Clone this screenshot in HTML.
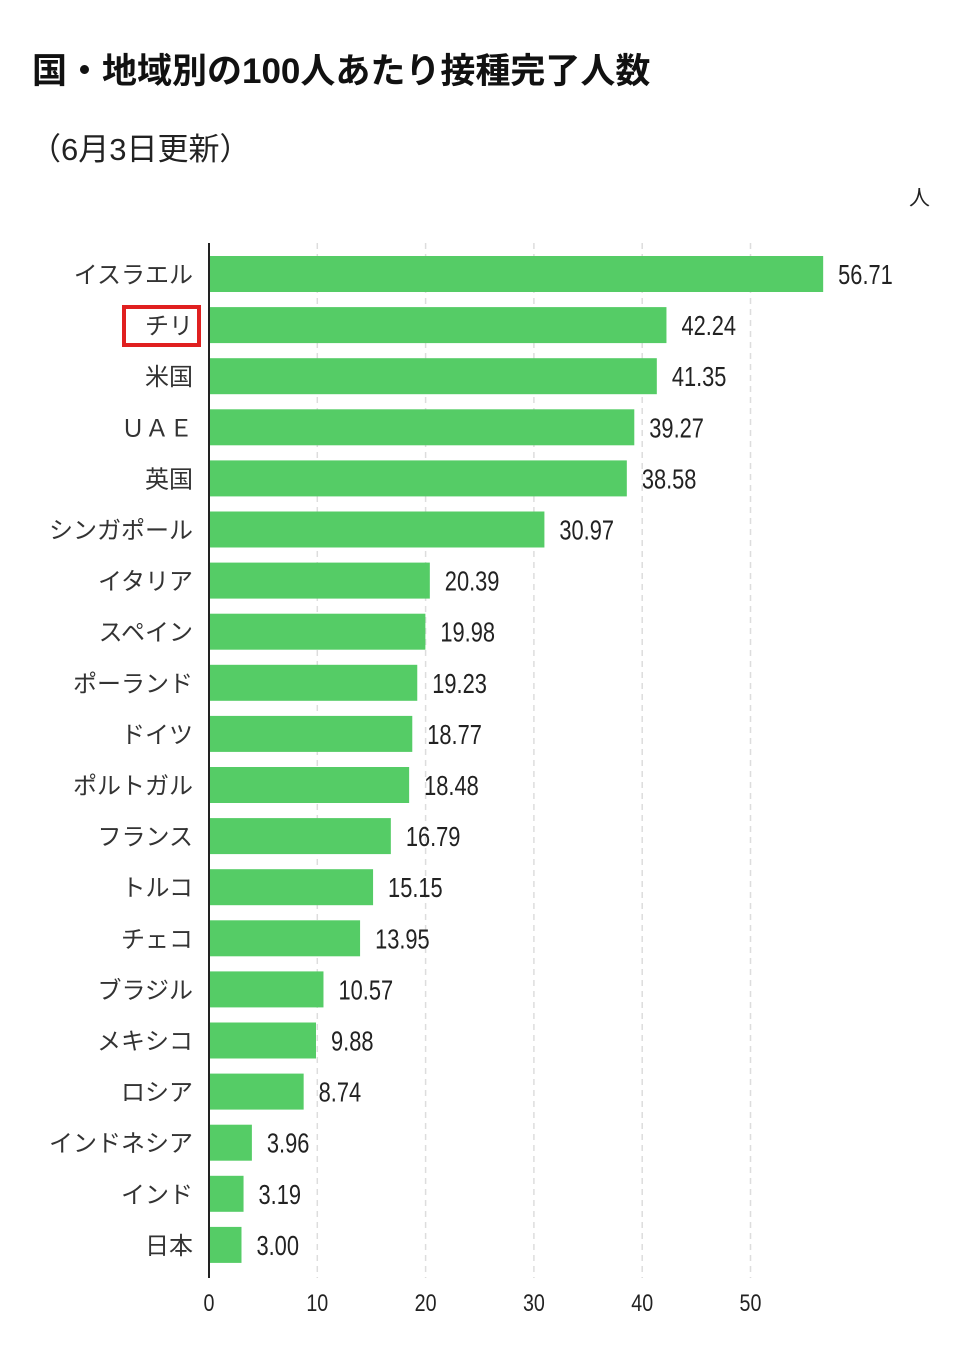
<!DOCTYPE html>
<html><head><meta charset="utf-8"><style>
body{margin:0;background:#fff;width:970px;height:1352px;overflow:hidden;font-family:"Liberation Sans","Noto Sans CJK JP",sans-serif}
</style></head><body>
<svg width="970" height="1352" xmlns="http://www.w3.org/2000/svg">
<text x="32" y="83" font-size="35" font-weight="bold" fill="#111" font-family="Liberation Sans,Noto Sans CJK JP,sans-serif">国・地域別の100人あたり接種完了人数</text>
<text x="30" y="160" font-size="31" fill="#222" font-family="Liberation Sans,Noto Sans CJK JP,sans-serif">（6月3日更新）</text>
<text x="930" y="205" font-size="21" fill="#222" text-anchor="end" font-family="Noto Sans CJK JP,sans-serif">人</text>
<g id="grid"></g><g id="bars"></g><g id="labels"></g>
<line x1="209" y1="243" x2="209" y2="1278" stroke="#222" stroke-width="2"/>
<rect x="124" y="307" width="75" height="38" fill="none" stroke="#e02020" stroke-width="4"/>
</svg>
<script>
const categories=["イスラエル","チリ","米国","ＵＡＥ","英国","シンガポール","イタリア","スペイン","ポーランド","ドイツ","ポルトガル","フランス","トルコ","チェコ","ブラジル","メキシコ","ロシア","インドネシア","インド","日本"];
const values=[56.71,42.24,41.35,39.27,38.58,30.97,20.39,19.98,19.23,18.77,18.48,16.79,15.15,13.95,10.57,9.88,8.74,3.96,3.19,3.00];
const ticks=[0,10,20,30,40,50];
const NS="http://www.w3.org/2000/svg";
const x=v=>209+v*10.83;
const y=i=>274+i*51.1;
function mk(tag,attrs,parent){const e=document.createElementNS(NS,tag);for(const k in attrs)e.setAttribute(k,attrs[k]);parent.appendChild(e);return e;}
const g=document.getElementById('grid'),b=document.getElementById('bars'),l=document.getElementById('labels');
ticks.forEach(t=>{
  if(t>0){const ln=mk('line',{x1:x(t),x2:x(t),y1:243,y2:1278,stroke:'#ddd','stroke-width':1.5,'stroke-dasharray':'6,5'},g);
  
  }
  const tx=mk('text',{x:x(t),y:1311,'font-size':24,'text-anchor':'middle',fill:'#222',transform:`translate(${x(t)},0) scale(0.82,1) translate(${-x(t)},0)`},l);
  tx.textContent=t;
  
  
});
categories.forEach((c,i)=>{
  const r=mk('rect',{x:210,y:y(i)-18,width:x(values[i])-210,height:36,fill:'#55cc66'},b);
  
  
  const ct=mk('text',{x:193,y:y(i)+9,'font-size':24,'text-anchor':'end',fill:'#333','font-family':'Noto Sans CJK JP,sans-serif'},l);
  ct.textContent=c;
  
  
  const vx=x(values[i])+15;
  const vt=mk('text',{x:vx,y:y(i)+10,'font-size':28,fill:'#222',transform:`translate(${vx},0) scale(0.78,1) translate(${-vx},0)`},l);
  vt.textContent=values[i].toFixed(2);
  
  
});
</script>
</body></html>
